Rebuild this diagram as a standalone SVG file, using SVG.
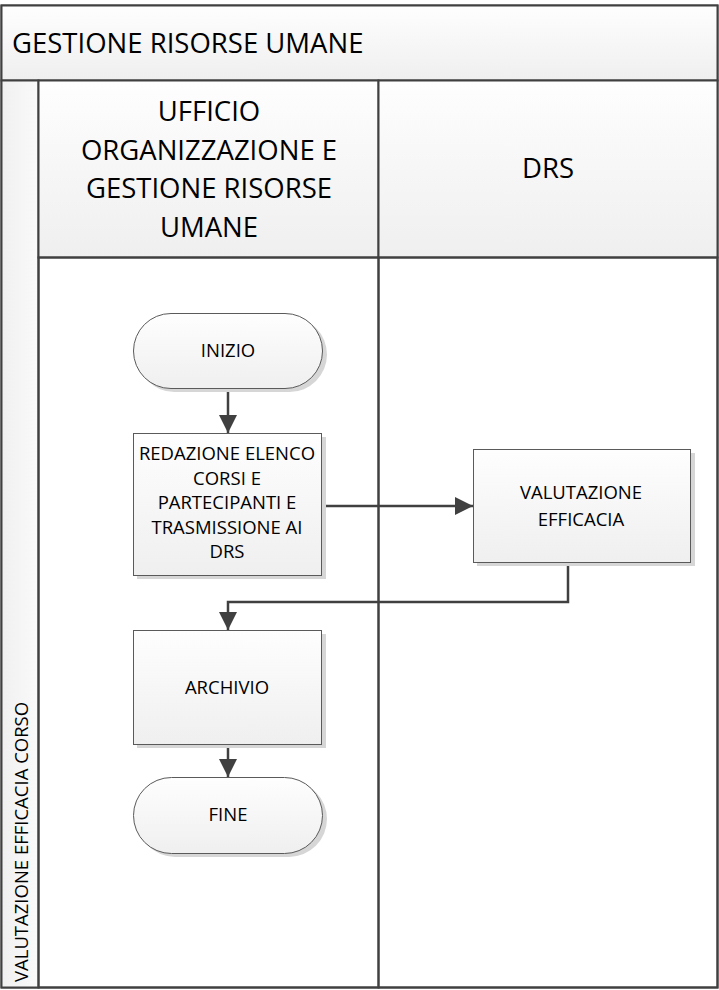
<svg xmlns="http://www.w3.org/2000/svg" width="719" height="990" viewBox="0 0 719 990">
<defs>
<linearGradient id="gv" x1="0" y1="0" x2="0" y2="1">
<stop offset="0" stop-color="#fefefe"/>
<stop offset="1" stop-color="#efefef"/>
</linearGradient>
<linearGradient id="gh" x1="0" y1="0" x2="1" y2="0">
<stop offset="0" stop-color="#f0f0f0"/>
<stop offset="1" stop-color="#fafafa"/>
</linearGradient>
<marker id="ah" markerWidth="18" markerHeight="18" viewBox="0 0 18 18" refX="18" refY="9" orient="auto" markerUnits="userSpaceOnUse">
<path d="M0,0 L18,9 L0,18 Z" fill="#404040"/>
</marker>
</defs>
<style>
.lane{fill:url(#gv);stroke:#404040;stroke-width:2}
.shape{fill:url(#gv);stroke:#5a5a5a;stroke-width:1}
.shadow{fill:#d6d6d6}
.t{font-family:"Open Sans","Liberation Sans",sans-serif;fill:#000;text-anchor:middle}
.big{font-size:27.5px}
.sm{font-size:18.5px}
.conn{fill:none;stroke:#404040;stroke-width:2.5}
</style>
<rect x="0" y="0" width="719" height="990" fill="#fff"/>
<g id="pool">
<rect x="1.5" y="5.5" width="716" height="982" fill="#fff" stroke="#404040" stroke-width="2"/>
<rect class="lane" x="1.5" y="5.5" width="716" height="75"/>
<text class="t big" x="12" y="53" style="text-anchor:start">GESTIONE RISORSE UMANE</text>
</g>
<g id="phase">
<rect x="1.5" y="80.5" width="37" height="907" fill="url(#gh)" stroke="#404040" stroke-width="2"/>
<text class="t" x="28" y="982" font-size="18.5" transform="rotate(-90 28 982)" style="text-anchor:start">VALUTAZIONE EFFICACIA CORSO</text>
</g>
<g id="lane-ufficio">
<rect class="lane" x="38.5" y="80.5" width="340" height="177"/>
<rect x="38.5" y="257.5" width="340" height="730" fill="none" stroke="#404040" stroke-width="2"/>
<text class="t big" x="209" y="121">UFFICIO</text>
<text class="t big" x="209" y="160">ORGANIZZAZIONE E</text>
<text class="t big" x="209" y="198">GESTIONE RISORSE</text>
<text class="t big" x="209" y="237">UMANE</text>
</g>
<g id="lane-drs">
<rect class="lane" x="378.5" y="80.5" width="339" height="177"/>
<rect x="378.5" y="257.5" width="339" height="730" fill="none" stroke="#404040" stroke-width="2"/>
<text class="t big" x="548" y="178">DRS</text>
</g>
<g id="connectors">
<path class="conn" d="M228,388 V433" marker-end="url(#ah)"/>
<path class="conn" d="M322,506 H473" marker-end="url(#ah)"/>
<path class="conn" d="M568,562 V602 H228 V630" marker-end="url(#ah)"/>
<path class="conn" d="M228,744 V777" marker-end="url(#ah)"/>
</g>
<g id="inizio">
<rect class="shadow" x="137" y="317" width="190" height="75" rx="37.5"/>
<rect class="shape" x="133.5" y="313.5" width="189" height="75" rx="37.5"/>
<text class="t sm" x="228" y="357">INIZIO</text>
</g>
<g id="redazione">
<rect class="shadow" x="137" y="437" width="189" height="142"/>
<rect class="shape" x="133.5" y="433.5" width="188" height="142"/>
<text class="t sm" x="227" y="460">REDAZIONE ELENCO</text>
<text class="t sm" x="227" y="485">CORSI E</text>
<text class="t sm" x="227" y="509">PARTECIPANTI E</text>
<text class="t sm" x="227" y="534">TRASMISSIONE AI</text>
<text class="t sm" x="227" y="558">DRS</text>
</g>
<g id="valutazione">
<rect class="shadow" x="477" y="453" width="218" height="113"/>
<rect class="shape" x="473.5" y="449.5" width="217" height="113"/>
<text class="t sm" x="581" y="499">VALUTAZIONE</text>
<text class="t sm" x="581" y="526">EFFICACIA</text>
</g>
<g id="archivio">
<rect class="shadow" x="137" y="634" width="189" height="114"/>
<rect class="shape" x="133.5" y="630.5" width="188" height="114"/>
<text class="t sm" x="227" y="694">ARCHIVIO</text>
</g>
<g id="fine">
<rect class="shadow" x="137" y="781" width="190" height="76" rx="38"/>
<rect class="shape" x="133.5" y="777.5" width="189" height="76" rx="38"/>
<text class="t sm" x="228" y="821">FINE</text>
</g>
</svg>
